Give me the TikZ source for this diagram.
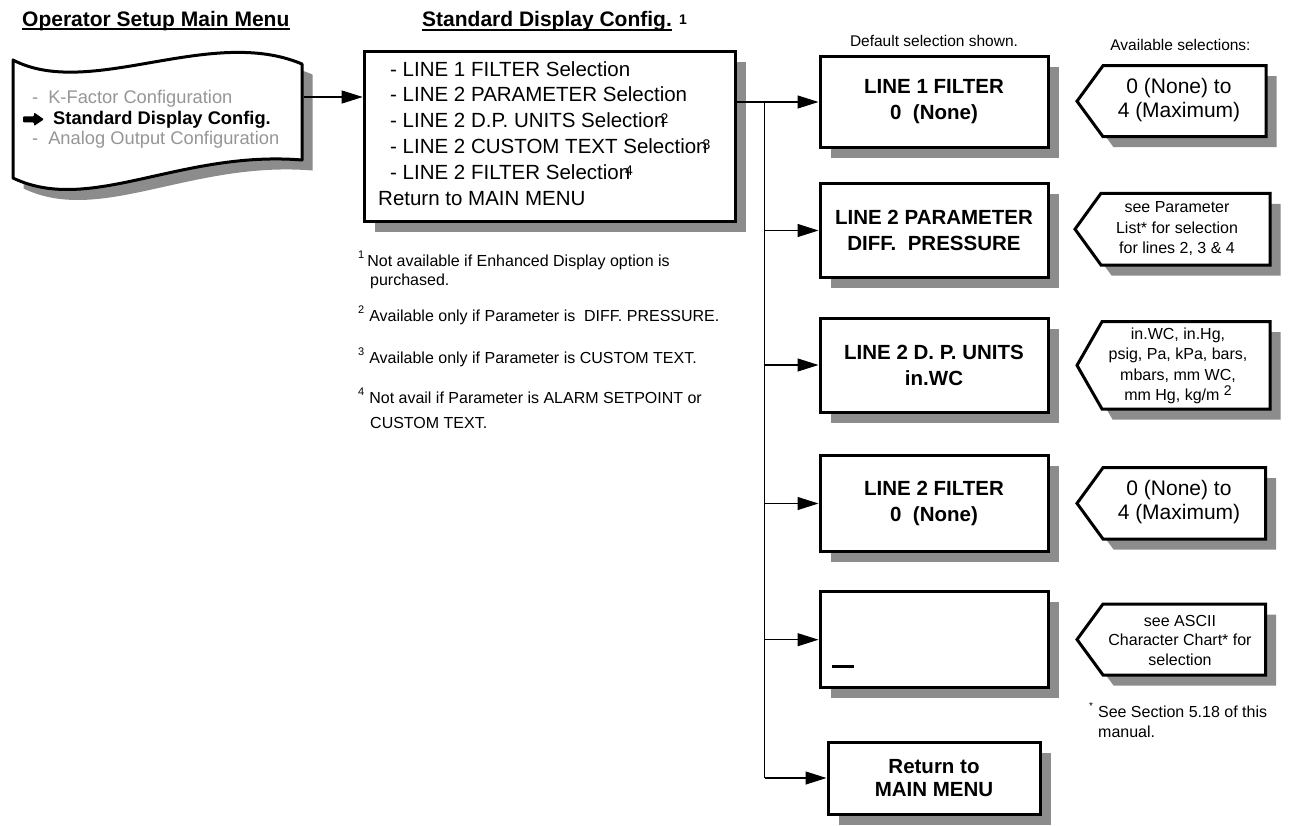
\documentclass[tikz,border=0pt]{standalone}
\usepackage{fontspec}
\setmainfont{Liberation Sans}
\usetikzlibrary{arrows.meta,shadows}
\definecolor{shadowgray}{RGB}{140,140,140}
\definecolor{itemgray}{RGB}{150,150,150}
\newcommand\msup[1]{\kern-5pt\raisebox{4pt}{\fontsize{14}{14}\selectfont #1}}
\newcommand\fsup[1]{\raisebox{8pt}{\fontsize{11}{11}\selectfont #1}}
\newcommand\selshape[5]{%
  \fill[shadowgray,shift={(10.5,10.5)}] (#1,{(#4+#5)/2}) -- (#2,#4) -- (#3,#4) -- (#3,#5) -- (#2,#5) -- cycle;
  \draw[line width=3pt,fill=white,line join=miter] (#1,{(#4+#5)/2}) -- (#2,#4) -- (#3,#4) -- (#3,#5) -- (#2,#5) -- cycle;}
\begin{document}
\begin{tikzpicture}[x=1pt,y=-1pt,
  arr/.style={-{Triangle[length=21pt,width=13pt]},line width=1.1pt},
  conn/.style={line width=1.1pt},
  shad/.style={drop shadow={shadow xshift=10.5pt,shadow yshift=-10.5pt,opacity=1,fill=shadowgray}},
  boxframe/.style={draw,line width=3pt,fill=white,shad,inner sep=0pt},
  valbox/.style={boxframe,minimum width=228pt,align=center,font=\bfseries\fontsize{20.5}{26}\selectfont},
  menutext/.style={anchor=base west,inner sep=0pt,font=\fontsize{20.5}{24}\selectfont},
  docitem/.style={anchor=base west,inner sep=0pt,text=itemgray,font=\fontsize{18.3}{22}\selectfont},
  ttl/.style={anchor=base west,inner sep=0pt,font=\bfseries\fontsize{21}{24}\selectfont},
  fnote/.style={anchor=base west,inner sep=0pt,font=\fontsize{16}{19}\selectfont},
  selsmall/.style={align=center,inner sep=0pt,font=\fontsize{16}{20.5}\selectfont},
  selbig/.style={align=center,inner sep=0pt,font=\fontsize{21}{24}\selectfont},
  hdr/.style={anchor=base,inner sep=0pt,font=\fontsize{15.5}{18}\selectfont}]
\useasboundingbox (0,0) rectangle (1291,825);

% titles
\node[ttl] (t1) at (22,26) {Operator Setup Main Menu};
\draw[line width=2pt] ([yshift=-2.8pt]t1.base west) -- ([yshift=-2.8pt]t1.base east);
\node[ttl] (t2) at (422,26.5) {Standard Display Config.};
\draw[line width=2pt] ([yshift=-3pt]t2.base west) -- ([yshift=-3pt]t2.base east);
\node[anchor=base west,inner sep=0pt,font=\bfseries\fontsize{14}{14}\selectfont] (t2s) at (679,24) {1};

% operator setup main menu (tape shape)
\fill[shadowgray,shift={(10.5,10.5)}] (13,60) .. controls (90,100) and (210,25) .. (302,64) -- (302,160) .. controls (180,150) and (90,215) .. (13,178) -- cycle;
\draw[line width=3pt,fill=white,line join=round] (13,60) .. controls (90,100) and (210,25) .. (302,64) -- (302,160) .. controls (180,150) and (90,215) .. (13,178) -- cycle;
\node[docitem] (d1) at (32,103.5) {-\hspace{10pt}K-Factor Configuration};
\fill[rounded corners=1pt] (23,116.3) -- (34,116.3) -- (34,112.5) -- (44,119.3) -- (34,126) -- (34,122.3) -- (23,122.3) -- cycle;
\node[anchor=base west,inner sep=0pt,font=\bfseries\fontsize{18.3}{22}\selectfont] (d2) at (53,124.5) {Standard Display Config.};
\node[docitem] (d3) at (32,144.5) {-\hspace{10pt}Analog Output Configuration};
\coordinate (docR) at (303.5,97);

% standard display config menu
\node[boxframe,minimum width=371pt,minimum height=170pt] (menu) at (549.7,136) {};
\node[menutext] (m1) at (390,76) {- LINE 1 FILTER Selection};
\node[menutext] (m2) at (390,101.7) {- LINE 2 PARAMETER Selection};
\node[menutext] (m3) at (390,127.5) {- LINE 2 D.P. UNITS Selection\msup{2}};
\node[menutext] (m4) at (390,153.3) {- LINE 2 CUSTOM TEXT Selection\msup{3}};
\node[menutext] (m5) at (390,179) {- LINE 2 FILTER Selection\msup{4}};
\node[menutext] (m6) at (378,205) {Return to MAIN MENU};

% footnotes
\node[fnote] (f1) at (358,266) {\fsup{1}\hspace{3pt}Not available if Enhanced Display option is};
\node[fnote] (f1b) at (370,285) {purchased.};
\node[fnote] (f2) at (358,321) {\fsup{2}\hspace{5pt}Available only if Parameter is\ \ DIFF. PRESSURE.};
\node[fnote] (f3) at (358,363) {\fsup{3}\hspace{5pt}Available only if Parameter is CUSTOM TEXT.};
\node[fnote] (f4) at (358,403) {\fsup{4}\hspace{5pt}Not avail if Parameter is ALARM SETPOINT or};
\node[fnote] (f4b) at (370,428) {CUSTOM TEXT.};

% headers
\node[hdr] (h1) at (934,46.7) {Default selection shown.};
\node[hdr] (h2) at (1180.5,50) {Available selections:};

% value boxes
\node[valbox,minimum height=91pt] (b1) at (934,102) {LINE 1 FILTER\\0\ \ (None)};
\node[valbox,minimum height=94pt] (b2) at (934,230.5) {LINE 2 PARAMETER\\DIFF.\ \ PRESSURE};
\node[valbox,minimum height=94pt] (b3) at (934,365) {LINE 2 D. P. UNITS\\in.WC};
\node[valbox,minimum height=96pt] (b4) at (934,503.5) {LINE 2 FILTER\\0\ \ (None)};
\node[valbox,minimum height=96pt] (b5) at (934,639.7) {};
\draw[line width=3pt] (832,666) -- (854,666);
\node[valbox,minimum width=212pt,minimum height=72pt,font=\bfseries\fontsize{20.5}{23}\selectfont] (b6) at (934,778) {Return to\\MAIN MENU};

% selection shapes
\selshape{1077}{1103}{1266}{65.7}{136.7}
\selshape{1075}{1101}{1270}{193.3}{265}
\selshape{1077}{1102}{1270}{321.7}{409}
\selshape{1077}{1103}{1265.7}{467.7}{539}
\selshape{1077}{1103}{1265.7}{604}{675}
\node[selbig] (s1) at (1179,100) {0 (None) to\\4 (Maximum)};
\node[selsmall] (s2) at (1177,229) {see Parameter\\List* for selection\\for lines 2, 3 \& 4};
\node[selsmall] (s3) at (1178,366) {in.WC, in.Hg,\\psig, Pa, kPa, bars,\\mbars, mm WC,\\mm Hg, kg/m\ \smash{\raisebox{5pt}{\fontsize{14}{14}\selectfont 2}}};
\node[selbig] (s4) at (1179,502) {0 (None) to\\4 (Maximum)};
\node[selsmall,font=\fontsize{16}{19.5}\selectfont] (s5) at (1180,640) {see ASCII\\Character Chart* for\\selection};
\node[fnote] (f5) at (1089,717) {\raisebox{8pt}{\fontsize{10}{10}\selectfont *}\hspace{5pt}See Section 5.18 of this};
\node[fnote] (f5b) at (1098,737) {manual.};

% connectors
\draw[arr] (docR) -- (menu.west |- docR);
\draw[arr] (b1.west -| menu.east) -- (b1.west);
\coordinate (tr) at (764.5,0);
\draw[conn] (b1.west -| tr) -- (b6.west -| tr);
\foreach \b in {b2,b3,b4,b5,b6} \draw[arr] (\b.west -| tr) -- (\b.west);
\end{tikzpicture}
\end{document}
